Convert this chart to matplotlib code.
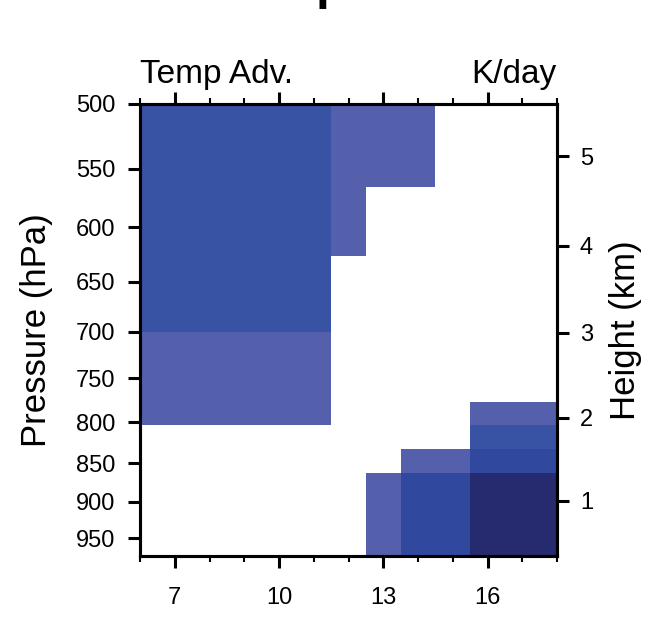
import matplotlib

matplotlib.use("Agg")

import matplotlib.pyplot as plt
import numpy as np
from matplotlib.colors import BoundaryNorm, ListedColormap

plt.rcParams["font.family"] = ["Liberation Sans", "DejaVu Sans"]

# ── data ─────────────────────────────────────────────────────────────────────
x_edges = [6, 11.5, 12.5, 13.5, 14.5, 15.5, 18]
p_edges = [500, 565, 626, 700, 777, 804, 833, 862, 975]

nan = np.nan
# rows: pressure bands top -> bottom, columns: x bands left -> right
adv = [
    [-1.5, -0.5, -0.5, -0.5, nan, nan],
    [-1.5, -0.5, nan, nan, nan, nan],
    [-1.5, nan, nan, nan, nan, nan],
    [-0.5, nan, nan, nan, nan, nan],
    [-0.5, nan, nan, nan, nan, -0.5],
    [nan, nan, nan, nan, nan, -1.5],
    [nan, nan, nan, -0.5, -0.5, -2.5],
    [nan, nan, -0.5, -2.5, -2.5, -3.5],
]

levels = [-4, -3, -2, -1, 0]
colors = ["#262a6e", "#30489e", "#3953a4", "#5460ab"]

p_ticks = [500, 550, 600, 650, 700, 750, 800, 850, 900, 950]
x_major = [7, 10, 13, 16]
height_km = [1, 2, 3, 4, 5]

# ── figure ───────────────────────────────────────────────────────────────────
fig = plt.figure(figsize=(6.48, 6.31), dpi=100)
ax = fig.add_axes([140 / 648, 1 - 556 / 631, 417 / 648, 452 / 631])

cmap = ListedColormap(colors)
norm = BoundaryNorm(levels, cmap.N)
ax.pcolormesh(x_edges, p_edges, np.ma.masked_invalid(adv), cmap=cmap, norm=norm)

ax.set_yscale("log")
ax.set_ylim(975, 500)
ax.set_xlim(6, 18)
ax.set_yticks(p_ticks)
ax.set_yticklabels([str(p) for p in p_ticks])
ax.yaxis.set_minor_locator(matplotlib.ticker.NullLocator())
ax.set_xticks(x_major)
ax.set_xticks(np.arange(6, 19), minor=True)

for s in ax.spines.values():
    s.set_linewidth(2.2)

ax.tick_params(axis="y", which="both", direction="out", length=8.5, width=2.2,
               labelsize=17, pad=9, right=False)
ax.tick_params(axis="x", which="major", direction="out", length=8.5, width=2.2,
               labelsize=17, pad=14, top=True)
ax.tick_params(axis="x", which="minor", direction="out", length=4, width=1.5,
               top=True)

# height axis from standard atmosphere
ax2 = ax.twinx()
ax2.set_yscale("log")
ax2.set_ylim(975, 500)
h_p = [1013.25 * (1 - 2.25577e-5 * h * 1000) ** 5.25588 for h in height_km]
ax2.set_yticks(h_p)
ax2.set_yticklabels([str(h) for h in height_km])
ax2.yaxis.set_minor_locator(matplotlib.ticker.NullLocator())
ax2.tick_params(axis="y", direction="out", length=8.5, width=2.2, labelsize=17, pad=8)
for s in ax2.spines.values():
    s.set_linewidth(2.2)

fig.text(140 / 648, 1 - 83 / 631, "Temp Adv.", fontsize=24, ha="left", va="baseline")
fig.text(557 / 648, 1 - 83 / 631, "K/day", fontsize=24, ha="right", va="baseline")
fig.text(37 / 648, 1 - 330 / 631, "Pressure (hPa)", fontsize=25, rotation=90,
         ha="center", va="center")
fig.text(625 / 648, 1 - 330 / 631, "Height (km)", fontsize=25, rotation=90,
         ha="center", va="center")
# title sits mostly above the canvas, as in the source image
fig.text(334 / 648, 1 + 1 / 631, "Composite", fontsize=36, fontweight="bold",
         ha="center", va="baseline")

fig.savefig("out.png", dpi=100)
